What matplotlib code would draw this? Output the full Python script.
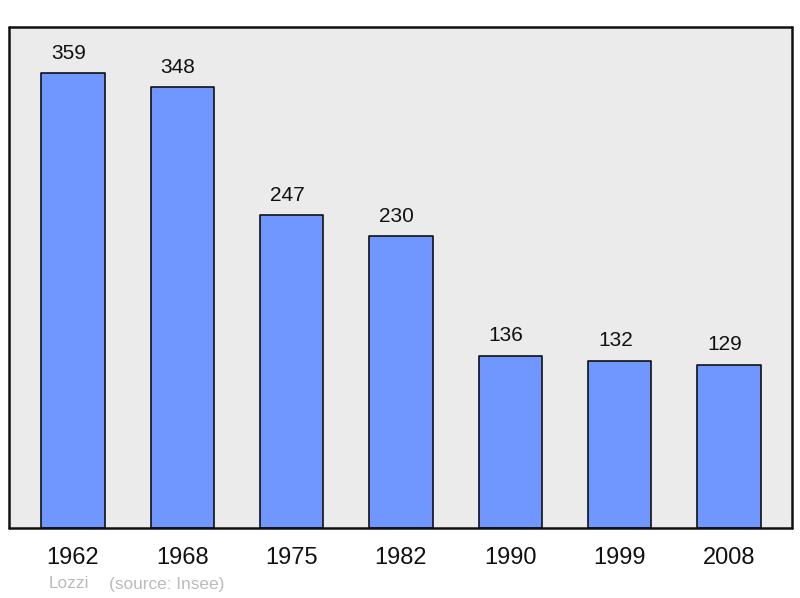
import matplotlib
matplotlib.use("Agg")
import matplotlib.pyplot as plt

plt.rcParams['font.family'] = ['Liberation Sans', 'DejaVu Sans']

years = ['1962', '1968', '1975', '1982', '1990', '1999', '2008']
population = [359, 348, 247, 230, 136, 132, 129]

W, H = 800, 598
fig = plt.figure(figsize=(W / 100, H / 100), dpi=100)
fig.patch.set_facecolor('white')

# axes frame in pixel terms
left, right, top, bottom = 9, 792, 27, 528
ax = fig.add_axes([left / W, (H - bottom) / H, (right - left) / W, (bottom - top) / H])
ax.set_facecolor('#ebebeb')

x = list(range(len(years)))
bars = ax.bar(x, population, width=0.58, color='#7097ff', edgecolor='#111111',
              linewidth=1.2, zorder=2)
for b in bars:
    b.set_joinstyle('round')

# value labels sit a touch left of the bar centre, as in the original
for xi, v in zip(x, population):
    ax.annotate(str(v), (xi, v), xytext=(-3, 7.5), textcoords='offset points',
                ha='center', va='bottom', fontsize=15, color='#111111')

ax.set_xlim(-0.585, 6.576)
ax.set_ylim(0, 395.3)
ax.set_yticks([])
ax.set_xticks(x)
ax.set_xticklabels(years, fontsize=17, color='#111111')
ax.tick_params(axis='x', length=0, pad=13.5)

for s in ax.spines.values():
    s.set_linewidth(1.8)
    s.set_color('#111111')
    s.set_capstyle('round')

fig.text(49 / W, 1 - 584 / H, 'Lozzi', fontsize=12.4, color='#bbbbbb', va='center', ha='left')
fig.text(109 / W, 1 - 584 / H, '(source: Insee)', fontsize=12.4, color='#bbbbbb', va='center', ha='left')

fig.savefig('out.png', dpi=100)
